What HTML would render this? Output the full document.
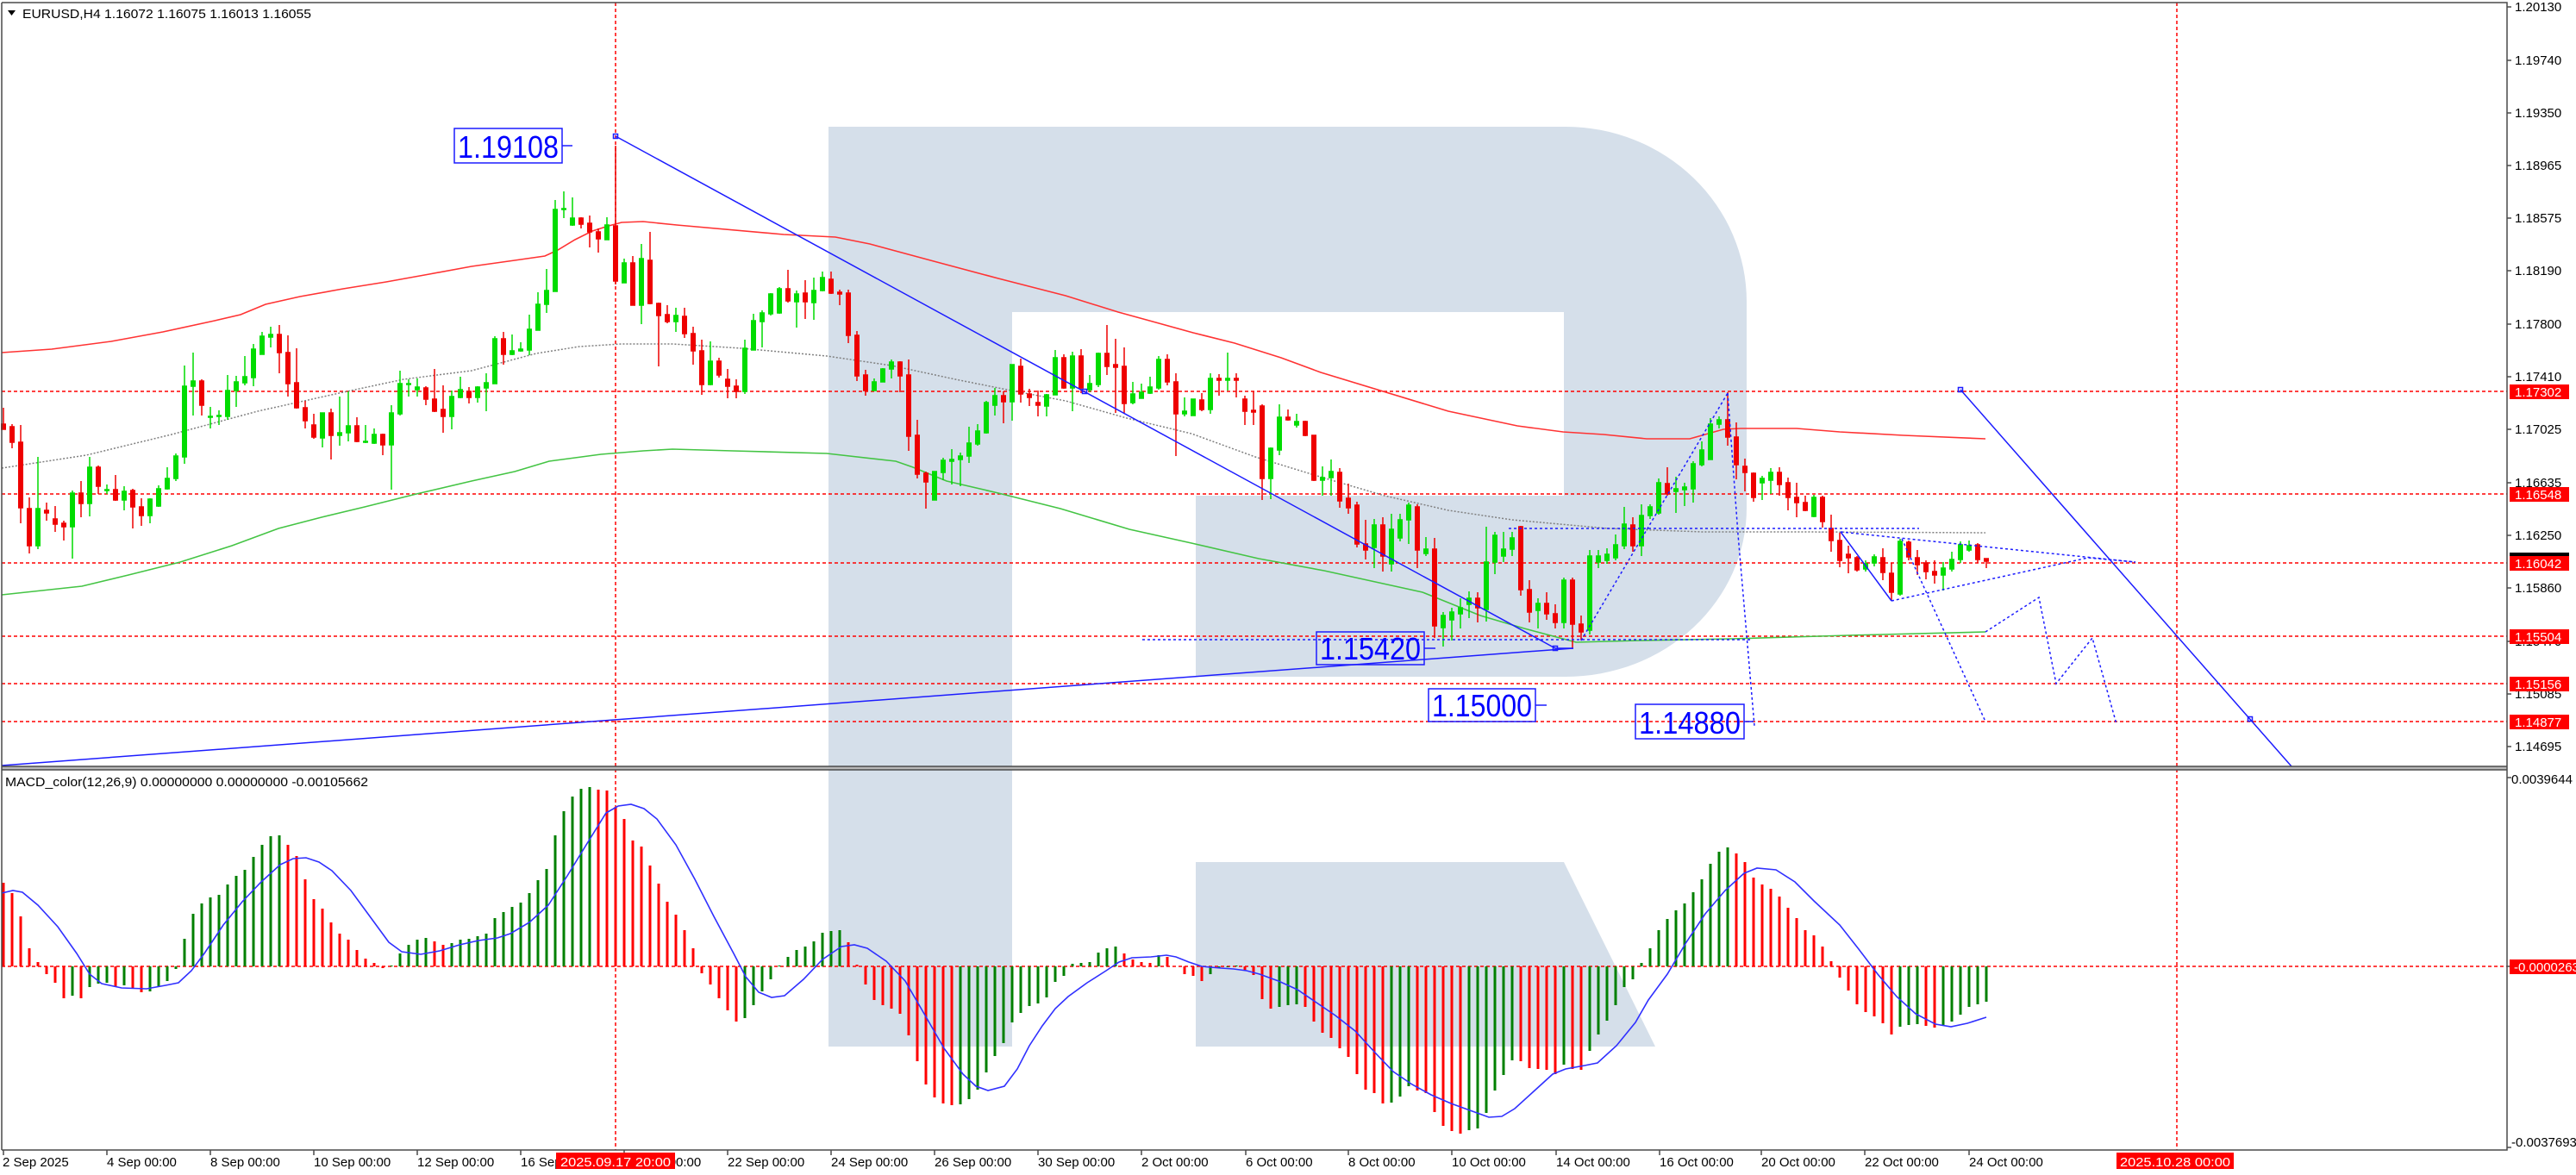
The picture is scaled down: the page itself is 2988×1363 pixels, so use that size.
<!DOCTYPE html>
<html><head><meta charset="utf-8"><style>
html,body{margin:0;padding:0;background:#fff;}
svg{display:block;}
text{font-family:"Liberation Sans",sans-serif;}
.g{stroke:#00dc00;fill:#00dc00;stroke-width:1.5;}
.r{stroke:#ee0000;fill:#ee0000;stroke-width:1.5;}
.ax{font-size:15px;fill:#000;}
.lb{font-size:15px;fill:#fff;}
.bl{font-size:36px;fill:#0000ff;}
</style></head><body>
<svg width="2988" height="1363" viewBox="0 0 2988 1363" xmlns="http://www.w3.org/2000/svg">
<rect width="2988" height="1363" fill="#fff"/>
<!-- watermark -->
<path fill="#d5dfea" d="M961 147H1816A210 203 0 0 1 2026 350V589A210 196 0 0 1 1816 785H1387V575H1814V362H1174V1214H961Z"/>
<path fill="#d5dfea" d="M1387 1000H1814L1920 1214H1387Z"/>
<!-- red dashed levels -->
<g stroke="#ff0000" stroke-width="1.5" stroke-dasharray="4 3" fill="none">
<path d="M2 454H2908M2 573H2908M2 653H2908M2 738H2908M2 793H2908M2 837H2908"/>
<path d="M714 3V1334M2525 3V1334"/>
<path d="M2 1121H2908"/>
</g>
<!-- moving averages -->
<path fill="none" stroke="#ff3333" stroke-width="1.6" d="M2 409L60 405L129 396L189 385L249 372L279 365L308 353L348 344L398 335L448 327L498 318L547 309L597 302L632 297L647 290L667 278L687 268L706 262L721 258L746 257L785 261L909 272L969 275L1009 283L1083 303L1158 323L1236 343L1297 362L1337 373L1384 386L1432 398L1486 415L1532 432L1680 477L1760 494L1813 501L1860 504L1910 509L1960 509L1999 498L2019 497L2084 497L2134 501L2208 505L2303 509"/>
<path fill="none" stroke="#44c444" stroke-width="1.6" d="M2 690L95 680L149 667L209 652L269 633L323 613L373 600L423 588L483 573L547 558L597 547L637 535L697 527L746 523L780 521L850 523L959 526L1039 535L1059 542L1098 558L1158 572L1230 590L1310 614L1382 630L1460 648L1536 662L1650 687L1717 714L1768 729L1828 745L1902 743L2009 741L2144 737L2303 733"/>
<path fill="none" stroke="#808080" stroke-width="1.5" stroke-dasharray="2 2" d="M2 543L100 528L199 504L299 477L398 455L468 440L547 430L622 410L672 402L721 399L780 399L860 404L959 413L1034 424L1108 440L1173 453L1236 465L1307 485L1382 503L1456 530L1531 553L1606 575L1680 592L1754 603L1865 613L1975 617L2094 617L2303 618"/>
<!-- candles -->
<path class="r" d="M4 473V498M1.75 492h4.5V498h-4.5z"/>
<path class="r" d="M14 492V520M11.75 495h4.5V513h-4.5z"/>
<path class="r" d="M24 493V607M21.75 513h4.5V589h-4.5z"/>
<path class="r" d="M34 577V642M31.75 590h4.5V633h-4.5z"/>
<path class="g" d="M44 530V637M41.75 590h4.5V633h-4.5z"/>
<path class="r" d="M54 583V604M51.75 592h4.5V595h-4.5z"/>
<path class="r" d="M64 587V617M61.75 602h4.5V608h-4.5z"/>
<path class="r" d="M74 604V627M71.75 607h4.5V611h-4.5z"/>
<path class="g" d="M84 569V648M81.75 572h4.5V611h-4.5z"/>
<path class="r" d="M94 558V600M91.75 572h4.5V584h-4.5z"/>
<path class="g" d="M104 530V599M101.75 542h4.5V584h-4.5z"/>
<path class="r" d="M114 540V573M111.75 542h4.5V564h-4.5z"/>
<path class="g" d="M124 562V573M121.75 568h4.5V569h-4.5z"/>
<path class="r" d="M134 551V581M131.75 568h4.5V580h-4.5z"/>
<path class="g" d="M144 564V592M141.75 570h4.5V580h-4.5z"/>
<path class="r" d="M154 567V613M151.75 569h4.5V588h-4.5z"/>
<path class="r" d="M164 578V610M161.75 588h4.5V598h-4.5z"/>
<path class="g" d="M174 578V607M171.75 579h4.5V598h-4.5z"/>
<path class="g" d="M184 563V588M181.75 567h4.5V587h-4.5z"/>
<path class="g" d="M194 542V568M191.75 555h4.5V567h-4.5z"/>
<path class="g" d="M204 526V558M201.75 529h4.5V555h-4.5z"/>
<path class="g" d="M214 424V538M211.75 448h4.5V530h-4.5z"/>
<path class="g" d="M224 409V482M221.75 442h4.5V448h-4.5z"/>
<path class="r" d="M234 440V482M231.75 442h4.5V470h-4.5z"/>
<path class="g" d="M244 472V497M241.75 483h4.5V484h-4.5z"/>
<path class="g" d="M254 476V493M251.75 482h4.5V483h-4.5z"/>
<path class="g" d="M264 435V487M261.75 453h4.5V483h-4.5z"/>
<path class="g" d="M274 436V472M271.75 443h4.5V453h-4.5z"/>
<path class="g" d="M284 413V447M281.75 437h4.5V444h-4.5z"/>
<path class="g" d="M294 399V448M291.75 405h4.5V438h-4.5z"/>
<path class="g" d="M304 385V411M301.75 390h4.5V411h-4.5z"/>
<path class="g" d="M314 379V403M311.75 388h4.5V391h-4.5z"/>
<path class="r" d="M324 377V433M321.75 388h4.5V409h-4.5z"/>
<path class="r" d="M334 389V460M331.75 409h4.5V445h-4.5z"/>
<path class="r" d="M344 404V474M341.75 444h4.5V473h-4.5z"/>
<path class="r" d="M354 465V497M351.75 473h4.5V488h-4.5z"/>
<path class="r" d="M364 480V509M361.75 493h4.5V507h-4.5z"/>
<path class="g" d="M374 479V519M371.75 479h4.5V508h-4.5z"/>
<path class="r" d="M384 474V533M381.75 479h4.5V505h-4.5z"/>
<path class="g" d="M394 460V517M391.75 502h4.5V505h-4.5z"/>
<path class="g" d="M404 454V512M401.75 494h4.5V502h-4.5z"/>
<path class="r" d="M414 484V513M411.75 494h4.5V512h-4.5z"/>
<path class="g" d="M424 493V514M421.75 512h4.5V513h-4.5z"/>
<path class="g" d="M434 497V515M431.75 504h4.5V514h-4.5z"/>
<path class="r" d="M444 503V528M441.75 504h4.5V516h-4.5z"/>
<path class="g" d="M454 470V568M451.75 479h4.5V516h-4.5z"/>
<path class="g" d="M464 430V482M461.75 445h4.5V480h-4.5z"/>
<path class="g" d="M474 440V460M471.75 445h4.5V446h-4.5z"/>
<path class="g" d="M484 439V460M481.75 449h4.5V452h-4.5z"/>
<path class="r" d="M494 448V470M491.75 450h4.5V463h-4.5z"/>
<path class="r" d="M504 428V478M501.75 463h4.5V477h-4.5z"/>
<path class="r" d="M514 447V502M511.75 475h4.5V483h-4.5z"/>
<path class="g" d="M524 453V498M521.75 460h4.5V483h-4.5z"/>
<path class="g" d="M534 437V462M531.75 452h4.5V461h-4.5z"/>
<path class="r" d="M544 449V468M541.75 454h4.5V461h-4.5z"/>
<path class="g" d="M554 448V467M551.75 449h4.5V461h-4.5z"/>
<path class="g" d="M564 433V477M561.75 444h4.5V450h-4.5z"/>
<path class="g" d="M574 390V445M571.75 393h4.5V445h-4.5z"/>
<path class="r" d="M584 385V423M581.75 393h4.5V411h-4.5z"/>
<path class="g" d="M594 388V412M591.75 407h4.5V411h-4.5z"/>
<path class="g" d="M604 397V408M601.75 405h4.5V407h-4.5z"/>
<path class="g" d="M614 365V412M611.75 382h4.5V406h-4.5z"/>
<path class="g" d="M624 339V383M621.75 353h4.5V383h-4.5z"/>
<path class="g" d="M634 312V363M631.75 337h4.5V353h-4.5z"/>
<path class="g" d="M644 232V338M641.75 243h4.5V338h-4.5z"/>
<path class="g" d="M654 222V253M651.75 242h4.5V243h-4.5z"/>
<path class="g" d="M664 229V262M661.75 253h4.5V261h-4.5z"/>
<path class="r" d="M674 252V265M671.75 253h4.5V260h-4.5z"/>
<path class="r" d="M684 250V287M681.75 259h4.5V269h-4.5z"/>
<path class="r" d="M694 265V293M691.75 269h4.5V277h-4.5z"/>
<path class="g" d="M704 252V278M701.75 261h4.5V278h-4.5z"/>
<path class="r" d="M714 169V330M711.75 262h4.5V326h-4.5z"/>
<path class="g" d="M724 300V328M721.75 305h4.5V328h-4.5z"/>
<path class="r" d="M734 297V354M731.75 305h4.5V354h-4.5z"/>
<path class="g" d="M744 283V376M741.75 300h4.5V354h-4.5z"/>
<path class="r" d="M754 269V353M751.75 302h4.5V352h-4.5z"/>
<path class="r" d="M764 351V425M761.75 352h4.5V366h-4.5z"/>
<path class="r" d="M774 354V375M771.75 365h4.5V373h-4.5z"/>
<path class="g" d="M784 357V385M781.75 366h4.5V373h-4.5z"/>
<path class="r" d="M794 357V392M791.75 367h4.5V387h-4.5z"/>
<path class="r" d="M804 379V423M801.75 387h4.5V407h-4.5z"/>
<path class="r" d="M814 394V458M811.75 407h4.5V446h-4.5z"/>
<path class="g" d="M824 396V447M821.75 419h4.5V446h-4.5z"/>
<path class="r" d="M834 415V438M831.75 419h4.5V435h-4.5z"/>
<path class="r" d="M844 428V462M841.75 440h4.5V448h-4.5z"/>
<path class="r" d="M854 440V462M851.75 448h4.5V454h-4.5z"/>
<path class="g" d="M864 394V457M861.75 404h4.5V454h-4.5z"/>
<path class="g" d="M874 364V406M871.75 372h4.5V406h-4.5z"/>
<path class="g" d="M884 360V403M881.75 363h4.5V373h-4.5z"/>
<path class="g" d="M894 340V366M891.75 341h4.5V364h-4.5z"/>
<path class="g" d="M904 333V364M901.75 335h4.5V363h-4.5z"/>
<path class="r" d="M914 313V351M911.75 335h4.5V349h-4.5z"/>
<path class="g" d="M924 337V380M921.75 341h4.5V350h-4.5z"/>
<path class="r" d="M934 325V370M931.75 340h4.5V350h-4.5z"/>
<path class="g" d="M944 322V371M941.75 337h4.5V351h-4.5z"/>
<path class="g" d="M954 315V338M951.75 322h4.5V337h-4.5z"/>
<path class="r" d="M964 315V341M961.75 324h4.5V340h-4.5z"/>
<path class="r" d="M974 336V354M971.75 339h4.5V341h-4.5z"/>
<path class="r" d="M984 336V398M981.75 340h4.5V389h-4.5z"/>
<path class="r" d="M994 384V442M991.75 389h4.5V436h-4.5z"/>
<path class="r" d="M1004 429V459M1001.75 435h4.5V453h-4.5z"/>
<path class="g" d="M1014 439V453M1011.75 443h4.5V453h-4.5z"/>
<path class="g" d="M1024 427V443M1021.75 428h4.5V443h-4.5z"/>
<path class="g" d="M1034 417V439M1031.75 420h4.5V428h-4.5z"/>
<path class="r" d="M1044 419V455M1041.75 420h4.5V436h-4.5z"/>
<path class="r" d="M1054 417V523M1051.75 435h4.5V506h-4.5z"/>
<path class="r" d="M1064 487V555M1061.75 505h4.5V550h-4.5z"/>
<path class="r" d="M1074 547V590M1071.75 549h4.5V559h-4.5z"/>
<path class="g" d="M1084 547V580M1081.75 547h4.5V580h-4.5z"/>
<path class="g" d="M1094 531V557M1091.75 534h4.5V548h-4.5z"/>
<path class="g" d="M1104 521V562M1101.75 533h4.5V535h-4.5z"/>
<path class="g" d="M1114 525V564M1111.75 529h4.5V533h-4.5z"/>
<path class="g" d="M1124 495V537M1121.75 514h4.5V529h-4.5z"/>
<path class="g" d="M1134 492V517M1131.75 500h4.5V515h-4.5z"/>
<path class="g" d="M1144 465V503M1141.75 467h4.5V502h-4.5z"/>
<path class="g" d="M1154 450V482M1151.75 459h4.5V470h-4.5z"/>
<path class="r" d="M1164 454V491M1161.75 459h4.5V466h-4.5z"/>
<path class="g" d="M1174 423V488M1171.75 423h4.5V466h-4.5z"/>
<path class="r" d="M1184 416V467M1181.75 425h4.5V457h-4.5z"/>
<path class="r" d="M1194 451V471M1191.75 457h4.5V461h-4.5z"/>
<path class="r" d="M1204 453V483M1201.75 467h4.5V470h-4.5z"/>
<path class="g" d="M1214 457V483M1211.75 458h4.5V471h-4.5z"/>
<path class="g" d="M1224 406V458M1221.75 415h4.5V458h-4.5z"/>
<path class="r" d="M1234 411V451M1231.75 415h4.5V450h-4.5z"/>
<path class="g" d="M1244 408V477M1241.75 413h4.5V450h-4.5z"/>
<path class="r" d="M1254 405V456M1251.75 413h4.5V450h-4.5z"/>
<path class="g" d="M1264 435V455M1261.75 445h4.5V452h-4.5z"/>
<path class="g" d="M1274 409V449M1271.75 410h4.5V446h-4.5z"/>
<path class="r" d="M1284 377V435M1281.75 410h4.5V425h-4.5z"/>
<path class="r" d="M1294 393V479M1291.75 423h4.5V426h-4.5z"/>
<path class="r" d="M1304 403V479M1301.75 425h4.5V468h-4.5z"/>
<path class="g" d="M1314 443V469M1311.75 457h4.5V467h-4.5z"/>
<path class="g" d="M1324 445V462M1321.75 455h4.5V462h-4.5z"/>
<path class="g" d="M1334 437V457M1331.75 449h4.5V456h-4.5z"/>
<path class="g" d="M1344 413V452M1341.75 417h4.5V450h-4.5z"/>
<path class="r" d="M1354 411V447M1351.75 417h4.5V443h-4.5z"/>
<path class="r" d="M1364 433V529M1361.75 443h4.5V480h-4.5z"/>
<path class="g" d="M1374 461V483M1371.75 477h4.5V480h-4.5z"/>
<path class="g" d="M1384 463V482M1381.75 463h4.5V482h-4.5z"/>
<path class="r" d="M1394 456V477M1391.75 464h4.5V475h-4.5z"/>
<path class="g" d="M1404 433V480M1401.75 439h4.5V475h-4.5z"/>
<path class="r" d="M1414 434V459M1411.75 439h4.5V441h-4.5z"/>
<path class="g" d="M1424 409V453M1421.75 439h4.5V441h-4.5z"/>
<path class="r" d="M1434 433V461M1431.75 439h4.5V441h-4.5z"/>
<path class="r" d="M1444 459V493M1441.75 463h4.5V477h-4.5z"/>
<path class="r" d="M1454 454V493M1451.75 476h4.5V478h-4.5z"/>
<path class="r" d="M1464 469V580M1461.75 471h4.5V555h-4.5z"/>
<path class="g" d="M1474 519V579M1471.75 520h4.5V555h-4.5z"/>
<path class="g" d="M1484 469V528M1481.75 484h4.5V522h-4.5z"/>
<path class="r" d="M1494 475V488M1491.75 484h4.5V487h-4.5z"/>
<path class="g" d="M1504 480V496M1501.75 489h4.5V493h-4.5z"/>
<path class="r" d="M1514 488V506M1511.75 489h4.5V505h-4.5z"/>
<path class="r" d="M1524 505V558M1521.75 505h4.5V557h-4.5z"/>
<path class="g" d="M1534 541V575M1531.75 554h4.5V557h-4.5z"/>
<path class="g" d="M1544 533V575M1541.75 547h4.5V554h-4.5z"/>
<path class="r" d="M1554 543V589M1551.75 548h4.5V581h-4.5z"/>
<path class="r" d="M1564 561V596M1561.75 578h4.5V589h-4.5z"/>
<path class="r" d="M1574 582V635M1571.75 586h4.5V631h-4.5z"/>
<path class="r" d="M1584 603V649M1581.75 631h4.5V638h-4.5z"/>
<path class="g" d="M1594 602V659M1591.75 609h4.5V635h-4.5z"/>
<path class="r" d="M1604 600V663M1601.75 609h4.5V645h-4.5z"/>
<path class="g" d="M1614 596V663M1611.75 614h4.5V654h-4.5z"/>
<path class="g" d="M1624 596V628M1621.75 603h4.5V624h-4.5z"/>
<path class="g" d="M1634 583V631M1631.75 586h4.5V603h-4.5z"/>
<path class="r" d="M1644 585V659M1641.75 588h4.5V638h-4.5z"/>
<path class="g" d="M1654 623V645M1651.75 637h4.5V642h-4.5z"/>
<path class="r" d="M1664 624V740M1661.75 637h4.5V726h-4.5z"/>
<path class="g" d="M1674 710V750M1671.75 714h4.5V728h-4.5z"/>
<path class="g" d="M1684 705V743M1681.75 710h4.5V719h-4.5z"/>
<path class="g" d="M1694 694V729M1691.75 705h4.5V712h-4.5z"/>
<path class="g" d="M1704 686V717M1701.75 694h4.5V701h-4.5z"/>
<path class="r" d="M1714 687V722M1711.75 694h4.5V705h-4.5z"/>
<path class="g" d="M1724 611V721M1721.75 652h4.5V707h-4.5z"/>
<path class="g" d="M1734 617V666M1731.75 621h4.5V652h-4.5z"/>
<path class="g" d="M1744 617V652M1741.75 637h4.5V645h-4.5z"/>
<path class="g" d="M1754 617V645M1751.75 624h4.5V637h-4.5z"/>
<path class="r" d="M1764 610V691M1761.75 611h4.5V684h-4.5z"/>
<path class="r" d="M1774 673V722M1771.75 684h4.5V710h-4.5z"/>
<path class="g" d="M1784 694V729M1781.75 700h4.5V708h-4.5z"/>
<path class="r" d="M1794 687V719M1791.75 700h4.5V712h-4.5z"/>
<path class="r" d="M1804 701V729M1801.75 712h4.5V722h-4.5z"/>
<path class="g" d="M1814 670V729M1811.75 673h4.5V722h-4.5z"/>
<path class="r" d="M1824 670V752M1821.75 673h4.5V724h-4.5z"/>
<path class="r" d="M1834 714V743M1831.75 724h4.5V733h-4.5z"/>
<path class="g" d="M1844 638V736M1841.75 645h4.5V731h-4.5z"/>
<path class="g" d="M1854 638V659M1851.75 645h4.5V652h-4.5z"/>
<path class="g" d="M1864 636V654M1861.75 643h4.5V650h-4.5z"/>
<path class="g" d="M1874 620V650M1871.75 632h4.5V647h-4.5z"/>
<path class="g" d="M1884 588V637M1881.75 608h4.5V633h-4.5z"/>
<path class="r" d="M1894 600V640M1891.75 609h4.5V633h-4.5z"/>
<path class="g" d="M1904 585V645M1901.75 598h4.5V633h-4.5z"/>
<path class="g" d="M1914 585V602M1911.75 588h4.5V598h-4.5z"/>
<path class="g" d="M1924 555V597M1921.75 560h4.5V595h-4.5z"/>
<path class="r" d="M1934 542V575M1931.75 561h4.5V573h-4.5z"/>
<path class="g" d="M1944 553V595M1941.75 567h4.5V570h-4.5z"/>
<path class="g" d="M1954 560V587M1951.75 565h4.5V568h-4.5z"/>
<path class="g" d="M1964 535V583M1961.75 538h4.5V567h-4.5z"/>
<path class="g" d="M1974 512V541M1971.75 522h4.5V539h-4.5z"/>
<path class="g" d="M1984 485V533M1981.75 492h4.5V533h-4.5z"/>
<path class="g" d="M1994 483V497M1991.75 487h4.5V492h-4.5z"/>
<path class="r" d="M2004 455V517M2001.75 487h4.5V507h-4.5z"/>
<path class="r" d="M2014 490V556M2011.75 507h4.5V539h-4.5z"/>
<path class="r" d="M2024 532V570M2021.75 541h4.5V548h-4.5z"/>
<path class="r" d="M2034 548V582M2031.75 549h4.5V577h-4.5z"/>
<path class="g" d="M2044 552V580M2041.75 555h4.5V560h-4.5z"/>
<path class="g" d="M2054 543V573M2051.75 548h4.5V557h-4.5z"/>
<path class="r" d="M2064 542V575M2061.75 548h4.5V562h-4.5z"/>
<path class="r" d="M2074 554V592M2071.75 560h4.5V577h-4.5z"/>
<path class="r" d="M2084 560V600M2081.75 577h4.5V583h-4.5z"/>
<path class="r" d="M2094 575V593M2091.75 583h4.5V592h-4.5z"/>
<path class="g" d="M2104 574V600M2101.75 577h4.5V599h-4.5z"/>
<path class="r" d="M2114 575V612M2111.75 577h4.5V605h-4.5z"/>
<path class="r" d="M2124 597V640M2121.75 613h4.5V627h-4.5z"/>
<path class="r" d="M2134 618V658M2131.75 627h4.5V650h-4.5z"/>
<path class="r" d="M2144 633V665M2141.75 643h4.5V647h-4.5z"/>
<path class="r" d="M2154 645V663M2151.75 647h4.5V661h-4.5z"/>
<path class="g" d="M2164 650V663M2161.75 654h4.5V660h-4.5z"/>
<path class="g" d="M2174 643V657M2171.75 646h4.5V653h-4.5z"/>
<path class="r" d="M2184 636V673M2181.75 647h4.5V664h-4.5z"/>
<path class="r" d="M2194 653V697M2191.75 665h4.5V687h-4.5z"/>
<path class="g" d="M2204 625V691M2201.75 628h4.5V689h-4.5z"/>
<path class="r" d="M2214 627V650M2211.75 629h4.5V646h-4.5z"/>
<path class="r" d="M2224 638V667M2221.75 647h4.5V655h-4.5z"/>
<path class="r" d="M2234 650V672M2231.75 653h4.5V663h-4.5z"/>
<path class="r" d="M2244 650V677M2241.75 663h4.5V667h-4.5z"/>
<path class="g" d="M2254 652V685M2251.75 659h4.5V667h-4.5z"/>
<path class="g" d="M2264 640V663M2261.75 649h4.5V660h-4.5z"/>
<path class="g" d="M2274 628V653M2271.75 632h4.5V649h-4.5z"/>
<path class="g" d="M2284 627V640M2281.75 633h4.5V638h-4.5z"/>
<path class="r" d="M2294 630V653M2291.75 632h4.5V649h-4.5z"/>
<path class="r" d="M2304 648V659M2301.75 648h4.5V651h-4.5z"/>
<!-- blue analysis objects -->
<g stroke="#1c1cff" stroke-width="1.5" fill="none">
<path d="M714 158L1804 752H1825"/>
<path d="M2 888L1825 752"/>
<path d="M2135 617L2194 697"/>
<path d="M2274 452L2658 889"/>
<rect x="711.5" y="155.5" width="5" height="5"/>
<rect x="1255.5" y="451.5" width="5" height="5"/>
<rect x="1801.5" y="749.5" width="5" height="5"/>
<rect x="2271.5" y="449.5" width="5" height="5"/>
<rect x="2607.5" y="831.5" width="5" height="5"/>
</g>
<g stroke="#1c1cff" stroke-width="1.5" fill="none" stroke-dasharray="3 3">
<path d="M1325 742H2030"/>
<path d="M1750 613H2226"/>
<path d="M1834 743L2004 456"/>
<path d="M2004 456L2016 620L2035 842"/>
<path d="M2135 617L2203 624L2477 652"/>
<path d="M2194 697L2422 647L2477 652"/>
<path d="M2206 625L2303 837"/>
<path d="M2303 733L2365 693L2385 793L2427 740L2455 840"/>
</g>
<g stroke="#1c1cff" stroke-width="1.5" fill="none">
<rect x="527" y="149" width="125" height="40"/><path d="M652 169H664"/>
<rect x="1527" y="733" width="125" height="38"/><path d="M1652 752H1665"/>
<rect x="1657" y="799" width="124" height="38"/><path d="M1781 818H1794"/>
<rect x="1897" y="817" width="126" height="40"/><path d="M2023 837H2034"/>
</g>
<text class="bl" x="531" y="183" textLength="117" lengthAdjust="spacingAndGlyphs">1.19108</text>
<text class="bl" x="1531" y="765" textLength="117" lengthAdjust="spacingAndGlyphs">1.15420</text>
<text class="bl" x="1661" y="831" textLength="116" lengthAdjust="spacingAndGlyphs">1.15000</text>
<text class="bl" x="1901" y="851" textLength="118" lengthAdjust="spacingAndGlyphs">1.14880</text>
<!-- MACD histogram -->
<path stroke="#008000" stroke-width="3" fill="none" d="M84 1121V1155M104 1121V1145M114 1121V1141M124 1121V1140M144 1121V1143M174 1121V1150M184 1121V1145M194 1121V1138M204 1121V1124M214 1121V1089M224 1121V1060M234 1121V1048M244 1121V1041M254 1121V1038M264 1121V1026M274 1121V1016M284 1121V1009M294 1121V994M304 1121V980M314 1121V970M324 1121V969M454 1121V1120M464 1121V1106M474 1121V1096M484 1121V1090M494 1121V1088M524 1121V1094M534 1121V1090M544 1121V1089M554 1121V1086M564 1121V1083M574 1121V1065M584 1121V1058M594 1121V1052M604 1121V1047M614 1121V1036M624 1121V1021M634 1121V1008M644 1121V969M654 1121V941M664 1121V924M674 1121V915M684 1121V913M864 1121V1181M874 1121V1166M884 1121V1150M894 1121V1136M904 1121V1120M914 1121V1110M924 1121V1102M934 1121V1098M944 1121V1092M954 1121V1082M964 1121V1080M974 1121V1079M1114 1121V1281M1124 1121V1275M1134 1121V1264M1144 1121V1244M1154 1121V1225M1164 1121V1210M1174 1121V1186M1184 1121V1175M1194 1121V1167M1204 1121V1164M1214 1121V1157M1224 1121V1139M1234 1121V1132M1244 1121V1118M1254 1121V1117M1264 1121V1116M1274 1121V1105M1284 1121V1100M1294 1121V1098M1344 1121V1108M1404 1121V1130M1414 1121V1123M1424 1121V1122M1434 1121V1120M1484 1121V1168M1494 1121V1166M1504 1121V1165M1614 1121V1279M1624 1121V1272M1634 1121V1260M1704 1121V1311M1714 1121V1309M1724 1121V1291M1734 1121V1265M1744 1121V1247M1754 1121V1230M1814 1121V1235M1844 1121V1219M1854 1121V1200M1864 1121V1184M1874 1121V1166M1884 1121V1145M1894 1121V1136M1904 1121V1117M1914 1121V1100M1924 1121V1079M1934 1121V1066M1944 1121V1056M1954 1121V1048M1964 1121V1035M1974 1121V1020M1984 1121V1002M1994 1121V988M2004 1121V983M2204 1121V1191M2214 1121V1189M2224 1121V1188M2254 1121V1189M2264 1121V1185M2274 1121V1177M2284 1121V1168M2294 1121V1165M2304 1121V1162"/>
<path stroke="#ff0000" stroke-width="3" fill="none" d="M4 1121V1024M14 1121V1036M24 1121V1063M34 1121V1100M44 1121V1116M54 1121V1130M64 1121V1140M74 1121V1158M94 1121V1158M134 1121V1144M154 1121V1147M164 1121V1151M334 1121V980M344 1121V993M354 1121V1020M364 1121V1043M374 1121V1054M384 1121V1070M394 1121V1083M404 1121V1090M414 1121V1102M424 1121V1112M434 1121V1117M444 1121V1123M504 1121V1092M514 1121V1096M694 1121V916M704 1121V917M714 1121V936M724 1121V950M734 1121V975M744 1121V982M754 1121V1004M764 1121V1025M774 1121V1046M784 1121V1061M794 1121V1079M804 1121V1100M814 1121V1129M824 1121V1142M834 1121V1158M844 1121V1172M854 1121V1185M984 1121V1093M994 1121V1119M1004 1121V1142M1014 1121V1160M1024 1121V1166M1034 1121V1170M1044 1121V1176M1054 1121V1201M1064 1121V1231M1074 1121V1258M1084 1121V1273M1094 1121V1280M1104 1121V1282M1304 1121V1106M1314 1121V1113M1324 1121V1116M1334 1121V1117M1354 1121V1110M1374 1121V1130M1384 1121V1132M1394 1121V1138M1444 1121V1126M1454 1121V1131M1464 1121V1159M1474 1121V1170M1514 1121V1168M1524 1121V1185M1534 1121V1198M1544 1121V1204M1554 1121V1216M1564 1121V1226M1574 1121V1246M1584 1121V1264M1594 1121V1268M1604 1121V1280M1644 1121V1265M1654 1121V1268M1664 1121V1290M1674 1121V1306M1684 1121V1312M1694 1121V1315M1764 1121V1231M1774 1121V1239M1784 1121V1240M1794 1121V1241M1804 1121V1246M1824 1121V1240M1834 1121V1241M2014 1121V990M2024 1121V1000M2034 1121V1018M2044 1121V1026M2054 1121V1031M2064 1121V1040M2074 1121V1053M2084 1121V1065M2094 1121V1079M2104 1121V1085M2114 1121V1098M2124 1121V1115M2134 1121V1134M2144 1121V1149M2154 1121V1165M2164 1121V1174M2174 1121V1179M2184 1121V1187M2194 1121V1200M2234 1121V1190M2244 1121V1192"/>
<path fill="none" stroke="#3030ff" stroke-width="1.6" d="M2 1036L15 1033L26 1035L44 1050L67 1075L89 1106L104 1130L118 1141L141 1146L170 1147L192 1143L207 1140L222 1126L237 1106L259 1073L281 1046L303 1023L325 1003L340 996L355 995L370 1000L385 1010L407 1033L429 1063L451 1093L466 1104L488 1107L510 1103L533 1096L555 1091L577 1088L592 1083L614 1070L636 1050L658 1016L680 980L703 943L717 935L732 933L747 938L762 950L784 980L806 1020L828 1063L851 1106L865 1133L880 1151L895 1157L910 1155L932 1136L954 1113L976 1098L991 1096L1006 1100L1028 1115L1050 1138L1072 1176L1095 1216L1117 1246L1132 1260L1146 1265L1165 1260L1180 1240L1194 1213L1209 1190L1224 1170L1239 1156L1261 1140L1283 1126L1298 1116L1313 1111L1335 1110L1353 1108L1364 1110L1379 1116L1394 1121L1416 1123L1431 1124L1446 1126L1461 1130L1483 1138L1505 1148L1527 1163L1549 1178L1572 1196L1594 1220L1616 1243L1638 1258L1660 1270L1683 1280L1705 1288L1727 1296L1742 1295L1757 1286L1779 1266L1801 1246L1816 1240L1838 1236L1853 1233L1875 1213L1897 1186L1912 1160L1934 1130L1956 1093L1978 1060L2001 1033L2023 1013L2038 1007L2060 1009L2082 1023L2104 1045L2134 1073L2156 1101L2178 1130L2200 1156L2222 1176L2245 1188L2263 1191L2282 1187L2304 1180"/>
<!-- frames -->
<rect x="2" y="889" width="2906" height="4" fill="#b8b8b8"/>
<g stroke="#4a4a4a" stroke-width="1.5" fill="none">
<path d="M2 3H2908V1334H2M2 3V1334"/>
<path d="M2 889H2908M2 893H2908"/>
<path d="M2908 8h5M2908 70h5M2908 131h5M2908 192h5M2908 253h5M2908 314h5M2908 376h5M2908 437h5M2908 498h5M2908 560h5M2908 621h5M2908 682h5M2908 744h5M2908 805h5M2908 866h5"/>
<path d="M2908 902h5M2908 1121h5M2908 1331h5"/>
<path d="M4 1334v6M124 1334v6M244 1334v6M364 1334v6M484 1334v6M604 1334v6M724 1334v6M844 1334v6M964 1334v6M1084 1334v6M1204 1334v6M1324 1334v6M1445 1334v6M1564 1334v6M1684 1334v6M1805 1334v6M1925 1334v6M2043 1334v6M2163 1334v6M2284 1334v6"/>
</g>
<!-- price axis labels -->
<g class="ax">
<text x="2917" y="13">1.20130</text>
<text x="2917" y="75">1.19740</text>
<text x="2917" y="136">1.19350</text>
<text x="2917" y="197">1.18965</text>
<text x="2917" y="258">1.18575</text>
<text x="2917" y="319">1.18190</text>
<text x="2917" y="381">1.17800</text>
<text x="2917" y="442">1.17410</text>
<text x="2917" y="503">1.17025</text>
<text x="2917" y="565">1.16635</text>
<text x="2917" y="626">1.16250</text>
<text x="2917" y="687">1.15860</text>
<text x="2917" y="749">1.15470</text>
<text x="2917" y="810">1.15085</text>
<text x="2917" y="871">1.14695</text>
<text x="2913" y="909">0.0039644</text>
<text x="2913" y="1330">-0.0037693</text>
</g>
<rect x="2911" y="641" width="69" height="4" fill="#000"/>
<g fill="#ff0000">
<rect x="2911" y="446" width="69" height="17"/>
<rect x="2911" y="565" width="69" height="17"/>
<rect x="2911" y="645" width="69" height="17"/>
<rect x="2911" y="730" width="69" height="17"/>
<rect x="2911" y="785" width="69" height="17"/>
<rect x="2911" y="829" width="69" height="17"/>
<rect x="2911" y="1113" width="77" height="17"/>
</g>
<g class="lb">
<text x="2917" y="460">1.17302</text>
<text x="2917" y="579">1.16548</text>
<text x="2917" y="659">1.16042</text>
<text x="2917" y="744">1.15504</text>
<text x="2917" y="799">1.15156</text>
<text x="2917" y="843">1.14877</text>
<text x="2916" y="1127">-0.0000263</text>
</g>
<!-- time axis -->
<g class="ax">
<text x="3" y="1353">2 Sep 2025</text>
<text x="124" y="1353">4 Sep 00:00</text>
<text x="244" y="1353">8 Sep 00:00</text>
<text x="364" y="1353">10 Sep 00:00</text>
<text x="484" y="1353">12 Sep 00:00</text>
<text x="604" y="1353">16 Sep 00:00</text>
<text x="724" y="1353">18 Sep 00:00</text>
<text x="844" y="1353">22 Sep 00:00</text>
<text x="964" y="1353">24 Sep 00:00</text>
<text x="1084" y="1353">26 Sep 00:00</text>
<text x="1204" y="1353">30 Sep 00:00</text>
<text x="1324" y="1353">2 Oct 00:00</text>
<text x="1445" y="1353">6 Oct 00:00</text>
<text x="1564" y="1353">8 Oct 00:00</text>
<text x="1684" y="1353">10 Oct 00:00</text>
<text x="1805" y="1353">14 Oct 00:00</text>
<text x="1925" y="1353">16 Oct 00:00</text>
<text x="2043" y="1353">20 Oct 00:00</text>
<text x="2163" y="1353">22 Oct 00:00</text>
<text x="2284" y="1353">24 Oct 00:00</text>
</g>
<rect x="645" y="1337" width="138" height="19" fill="#ff0000"/>
<rect x="2455" y="1337" width="136" height="19" fill="#ff0000"/>
<text class="lb" x="650" y="1353" textLength="128" lengthAdjust="spacingAndGlyphs">2025.09.17 20:00</text>
<text class="lb" x="2459" y="1353" textLength="128" lengthAdjust="spacingAndGlyphs">2025.10.28 00:00</text>
<!-- titles -->
<polygon points="9,12 18,12 13.5,18" fill="#000"/>
<text class="ax" x="26" y="21" textLength="335" lengthAdjust="spacingAndGlyphs">EURUSD,H4  1.16072 1.16075 1.16013 1.16055</text>
<text class="ax" x="6" y="912" textLength="421" lengthAdjust="spacingAndGlyphs">MACD_color(12,26,9) 0.00000000 0.00000000 -0.00105662</text>
</svg>
</body></html>
